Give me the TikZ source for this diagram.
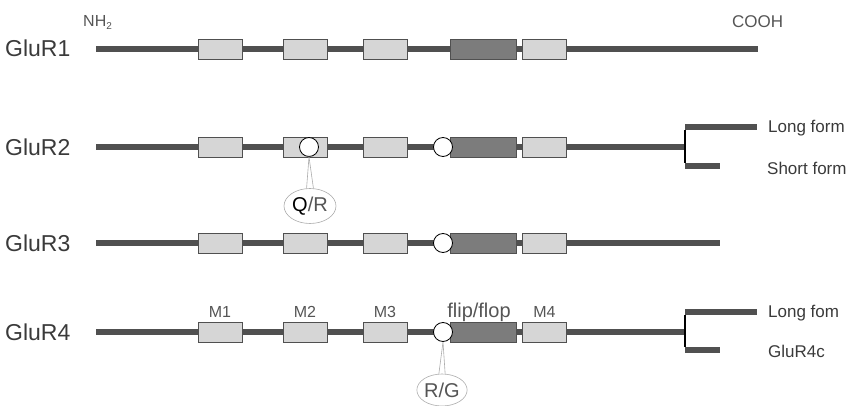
\documentclass[tikz,border=0pt]{standalone}
\usepackage{fontspec}
\setmainfont{Liberation Sans}
\usetikzlibrary{shapes.geometric}
\definecolor{bb}{HTML}{505050}
\definecolor{lightbox}{HTML}{D6D6D6}
\definecolor{darkbox}{HTML}{7C7C7C}
\definecolor{txt}{HTML}{3A3A3A}
\definecolor{txtl}{HTML}{555555}
\begin{document}
\begin{tikzpicture}[x=1pt,y=-1pt,
  backbone/.style={line width=6pt, draw=bb},
  tmbox/.style={draw=bb, fill=lightbox, minimum width=44pt, minimum height=20pt, inner sep=0pt, line width=0.8pt},
  flipbox/.style={tmbox, fill=darkbox, minimum width=66pt},
  site/.style={circle, draw=black, fill=white, minimum size=19pt, inner sep=0pt, line width=0.8pt},
  callout/.style={ellipse, draw=gray!65, fill=white, line width=0.6pt, minimum width=52pt, minimum height=35pt, inner sep=0pt, font=\fontsize{20}{20}\selectfont},
  tail/.style={draw=gray!65, line width=0.6pt},
  protname/.style={anchor=west, text=txt, inner sep=0pt, font=\fontsize{23}{23}\selectfont},
  formlbl/.style={anchor=west, text=txt, inner sep=0pt, font=\fontsize{17}{17}\selectfont},
  mlbl/.style={anchor=base, text=txtl, inner sep=0pt, font=\fontsize{16}{16}\selectfont},
  branchv/.style={draw=black, line width=1.4pt}
]
\useasboundingbox (0,0) rectangle (855,406);

% terminal labels
\node[anchor=base west, text=txtl, inner sep=0pt, font=\fontsize{16}{16}\selectfont] (nh2) at (83,27) {NH\raisebox{-0.35ex}{\fontsize{10}{10}\selectfont 2}};
\node[anchor=base west, text=txtl, inner sep=0pt, font=\fontsize{17}{17}\selectfont] (cooh) at (732,28) {COOH};

% protein names
\node[protname] (g1) at (5,48) {GluR1};
\node[protname] (g2) at (5,147) {GluR2};
\node[protname] (g3) at (5,243) {GluR3};
\node[protname] (g4) at (5,332) {GluR4};

% backbone end points
\coordinate (s1) at (96,49);   \coordinate (e1) at (758,49);
\coordinate (s2) at (96,147);  \coordinate (e2) at (685,147);
\coordinate (s3) at (96,243);  \coordinate (e3) at (720,243);
\coordinate (s4) at (96,332);  \coordinate (e4) at (685,332);
\foreach \r in {1,2,3,4} { \draw[backbone] (s\r) -- (e\r); }

% splice branches GluR2
\coordinate (b2t) at (685,127); \coordinate (b2b) at (685,166);
\coordinate (l2) at (757,127);  \coordinate (sh2) at (720,166);
\draw[backbone] (b2t) -- (l2);
\draw[backbone] (b2b) -- (sh2);
\draw[branchv] ([yshift=-3pt]b2t) -- ([yshift=3pt]b2b);
\node[formlbl] (long2) at (768,128) {Long form};
\node[formlbl] (short2) at (767,168) {Short form};

% splice branches GluR4
\coordinate (b4t) at (685,312); \coordinate (b4b) at (685,350);
\coordinate (l4) at (757,312);  \coordinate (sh4) at (720,350);
\draw[backbone] (b4t) -- (l4);
\draw[backbone] (b4b) -- (sh4);
\draw[branchv] ([yshift=-3pt]b4t) -- ([yshift=3pt]b4b);
\node[formlbl] (long4) at (768,313) {Long fom};
\node[formlbl] (short4) at (768,351) {GluR4c};

% transmembrane boxes
\foreach \r/\y in {1/49,2/147,3/243,4/332} {
  \node[tmbox] (m1-\r) at (220,\y) {};
  \node[tmbox] (m2-\r) at (305,\y) {};
  \node[tmbox] (m3-\r) at (385,\y) {};
  \node[flipbox] (ff-\r) at (483,\y) {};
  \node[tmbox] (m4-\r) at (544.5,\y) {};
}

% M labels (GluR4)
\node[mlbl] (lm1) at (220,318) {M1};
\node[mlbl] (lm2) at (305,318) {M2};
\node[mlbl] (lm3) at (385,318) {M3};
\node[mlbl, font=\fontsize{20}{20}\selectfont] (lff) at (479,318) {flip/flop};
\node[mlbl] (lm4) at (544.5,318) {M4};

% editing sites
\node[site] (qr) at (309,147) {};
\node[site] (rg2) at (443,147) {};
\node[site] (rg3) at (443,243) {};
\node[site] (rg4) at (443,332) {};

% callouts
\node[callout] (cqr) at (310,206) {\textcolor{black}{Q}\textcolor{txtl}{/R}};
\fill[white] ([yshift=1.5pt]cqr.101) -- (qr.south) -- ([yshift=1.5pt]cqr.79) -- cycle;
\draw[tail] (cqr.101) -- (qr.south) -- (cqr.79);

\node[callout, minimum width=50pt, minimum height=32pt] (crg) at (442,390) {\textcolor{txtl}{R/G}};
\fill[white] ([yshift=1.5pt]crg.101) -- (rg4.south) -- ([yshift=1.5pt]crg.79) -- cycle;
\draw[tail] (crg.101) -- (rg4.south) -- (crg.79);
\end{tikzpicture}
\end{document}
